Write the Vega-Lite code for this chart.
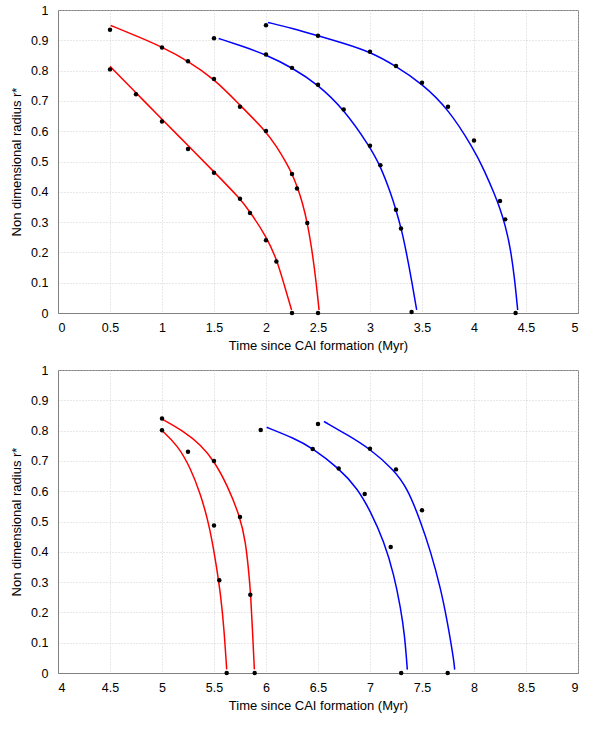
{
  "$schema": "https://vega.github.io/schema/vega-lite/v6.json",
  "background": "white",
  "padding": {"left": 10, "top": 3, "right": 5, "bottom": 5},
  "bounds": "flush",
  "spacing": 57,
  "config": {
    "font": "Liberation Sans",
    "view": {"stroke": "#808080", "strokeWidth": 1},
    "axis": {
      "grid": true,
      "gridColor": "#c4c4c4",
      "gridDash": [1, 2],
      "gridWidth": 0.8,
      "ticks": false,
      "domainColor": "#808080",
      "labelFontSize": 12.5,
      "titleFontSize": 13,
      "titleFontWeight": "normal",
      "labelColor": "#000000",
      "titleColor": "#000000"
    }
  },
  "datasets": {
    "top_curves": [
      {"curve": "A", "t": 0.5, "r": 0.814},
      {"curve": "A", "t": 0.75, "r": 0.727},
      {"curve": "A", "t": 1.0, "r": 0.639},
      {"curve": "A", "t": 1.25, "r": 0.553},
      {"curve": "A", "t": 1.5, "r": 0.466},
      {"curve": "A", "t": 1.75, "r": 0.378},
      {"curve": "A", "t": 1.85, "r": 0.332},
      {"curve": "A", "t": 2.0, "r": 0.254},
      {"curve": "A", "t": 2.1, "r": 0.18},
      {"curve": "A", "t": 2.17, "r": 0.099},
      {"curve": "A", "t": 2.246, "r": 0.01},
      {"curve": "B", "t": 0.506, "r": 0.949},
      {"curve": "B", "t": 0.75, "r": 0.915},
      {"curve": "B", "t": 1.0, "r": 0.878},
      {"curve": "B", "t": 1.25, "r": 0.832},
      {"curve": "B", "t": 1.5, "r": 0.773},
      {"curve": "B", "t": 1.75, "r": 0.686},
      {"curve": "B", "t": 2.0, "r": 0.6},
      {"curve": "B", "t": 2.1, "r": 0.55},
      {"curve": "B", "t": 2.2, "r": 0.494},
      {"curve": "B", "t": 2.25, "r": 0.459},
      {"curve": "B", "t": 2.3, "r": 0.418},
      {"curve": "B", "t": 2.35, "r": 0.365},
      {"curve": "B", "t": 2.4, "r": 0.295},
      {"curve": "B", "t": 2.45, "r": 0.19},
      {"curve": "B", "t": 2.484, "r": 0.096},
      {"curve": "B", "t": 2.51, "r": 0.01},
      {"curve": "C", "t": 1.545, "r": 0.906},
      {"curve": "C", "t": 1.75, "r": 0.883},
      {"curve": "C", "t": 2.0, "r": 0.853},
      {"curve": "C", "t": 2.25, "r": 0.81},
      {"curve": "C", "t": 2.5, "r": 0.754},
      {"curve": "C", "t": 2.75, "r": 0.672},
      {"curve": "C", "t": 3.0, "r": 0.548},
      {"curve": "C", "t": 3.1, "r": 0.485},
      {"curve": "C", "t": 3.2, "r": 0.395},
      {"curve": "C", "t": 3.25, "r": 0.34},
      {"curve": "C", "t": 3.3, "r": 0.28},
      {"curve": "C", "t": 3.35, "r": 0.2},
      {"curve": "C", "t": 3.4, "r": 0.108},
      {"curve": "C", "t": 3.449, "r": 0.01},
      {"curve": "D", "t": 2.019, "r": 0.959},
      {"curve": "D", "t": 2.25, "r": 0.94},
      {"curve": "D", "t": 2.5, "r": 0.915},
      {"curve": "D", "t": 2.75, "r": 0.89},
      {"curve": "D", "t": 3.0, "r": 0.862},
      {"curve": "D", "t": 3.25, "r": 0.815},
      {"curve": "D", "t": 3.5, "r": 0.757},
      {"curve": "D", "t": 3.75, "r": 0.675},
      {"curve": "D", "t": 4.0, "r": 0.54},
      {"curve": "D", "t": 4.1, "r": 0.47},
      {"curve": "D", "t": 4.2, "r": 0.39},
      {"curve": "D", "t": 4.25, "r": 0.345},
      {"curve": "D", "t": 4.3, "r": 0.29},
      {"curve": "D", "t": 4.35, "r": 0.215},
      {"curve": "D", "t": 4.39, "r": 0.115},
      {"curve": "D", "t": 4.42, "r": 0.01}
    ],
    "top_points": [
      {"t": 0.5, "r": 0.935}, {"t": 0.5, "r": 0.804}, {"t": 0.75, "r": 0.722},
      {"t": 1.0, "r": 0.632}, {"t": 1.25, "r": 0.541}, {"t": 1.5, "r": 0.463},
      {"t": 1.75, "r": 0.377}, {"t": 1.846, "r": 0.33}, {"t": 2.0, "r": 0.24},
      {"t": 2.1, "r": 0.17}, {"t": 2.25, "r": 0.0},
      {"t": 1.0, "r": 0.876}, {"t": 1.25, "r": 0.831}, {"t": 1.5, "r": 0.772},
      {"t": 1.75, "r": 0.681}, {"t": 2.0, "r": 0.601}, {"t": 2.25, "r": 0.459},
      {"t": 2.298, "r": 0.411}, {"t": 2.397, "r": 0.297}, {"t": 2.5, "r": 0.0},
      {"t": 1.5, "r": 0.907}, {"t": 2.0, "r": 0.853}, {"t": 2.25, "r": 0.809},
      {"t": 2.5, "r": 0.753}, {"t": 2.747, "r": 0.672}, {"t": 3.0, "r": 0.552},
      {"t": 3.1, "r": 0.488}, {"t": 3.25, "r": 0.341}, {"t": 3.298, "r": 0.279},
      {"t": 3.4, "r": 0.003},
      {"t": 2.0, "r": 0.95}, {"t": 2.5, "r": 0.915}, {"t": 3.0, "r": 0.862},
      {"t": 3.25, "r": 0.815}, {"t": 3.5, "r": 0.76}, {"t": 3.75, "r": 0.681},
      {"t": 4.0, "r": 0.569}, {"t": 4.25, "r": 0.37}, {"t": 4.3, "r": 0.309},
      {"t": 4.4, "r": 0.0}
    ],
    "bottom_curves": [
      {"curve": "A", "t": 5.0, "r": 0.8},
      {"curve": "A", "t": 5.147, "r": 0.753},
      {"curve": "A", "t": 5.276, "r": 0.676},
      {"curve": "A", "t": 5.372, "r": 0.588},
      {"curve": "A", "t": 5.436, "r": 0.511},
      {"curve": "A", "t": 5.484, "r": 0.434},
      {"curve": "A", "t": 5.526, "r": 0.346},
      {"curve": "A", "t": 5.564, "r": 0.258},
      {"curve": "A", "t": 5.596, "r": 0.148},
      {"curve": "A", "t": 5.622, "r": 0.012},
      {"curve": "B", "t": 5.0, "r": 0.838},
      {"curve": "B", "t": 5.212, "r": 0.797},
      {"curve": "B", "t": 5.372, "r": 0.753},
      {"curve": "B", "t": 5.5, "r": 0.7},
      {"curve": "B", "t": 5.628, "r": 0.62},
      {"curve": "B", "t": 5.75, "r": 0.516},
      {"curve": "B", "t": 5.804, "r": 0.434},
      {"curve": "B", "t": 5.837, "r": 0.324},
      {"curve": "B", "t": 5.853, "r": 0.258},
      {"curve": "B", "t": 5.869, "r": 0.148},
      {"curve": "B", "t": 5.888, "r": 0.012},
      {"curve": "C", "t": 6.006, "r": 0.811},
      {"curve": "C", "t": 6.269, "r": 0.775},
      {"curve": "C", "t": 6.449, "r": 0.742},
      {"curve": "C", "t": 6.699, "r": 0.676},
      {"curve": "C", "t": 6.878, "r": 0.61},
      {"curve": "C", "t": 7.006, "r": 0.533},
      {"curve": "C", "t": 7.135, "r": 0.434},
      {"curve": "C", "t": 7.231, "r": 0.324},
      {"curve": "C", "t": 7.295, "r": 0.214},
      {"curve": "C", "t": 7.333, "r": 0.126},
      {"curve": "C", "t": 7.359, "r": 0.011},
      {"curve": "D", "t": 6.558, "r": 0.83},
      {"curve": "D", "t": 6.782, "r": 0.786},
      {"curve": "D", "t": 7.0, "r": 0.74},
      {"curve": "D", "t": 7.231, "r": 0.67},
      {"curve": "D", "t": 7.359, "r": 0.61},
      {"curve": "D", "t": 7.487, "r": 0.5},
      {"curve": "D", "t": 7.583, "r": 0.401},
      {"curve": "D", "t": 7.679, "r": 0.28},
      {"curve": "D", "t": 7.744, "r": 0.17},
      {"curve": "D", "t": 7.808, "r": 0.038},
      {"curve": "D", "t": 7.814, "r": 0.011}
    ],
    "bottom_points": [
      {"t": 5.0, "r": 0.84}, {"t": 5.0, "r": 0.801}, {"t": 5.25, "r": 0.73},
      {"t": 5.5, "r": 0.7}, {"t": 5.5, "r": 0.487}, {"t": 5.551, "r": 0.306},
      {"t": 5.75, "r": 0.515}, {"t": 5.849, "r": 0.258}, {"t": 5.622, "r": 0.0},
      {"t": 5.891, "r": 0.0}, {"t": 5.949, "r": 0.802}, {"t": 6.449, "r": 0.739},
      {"t": 6.5, "r": 0.822}, {"t": 6.699, "r": 0.675}, {"t": 6.949, "r": 0.591},
      {"t": 7.0, "r": 0.74}, {"t": 7.199, "r": 0.416}, {"t": 7.25, "r": 0.672},
      {"t": 7.5, "r": 0.537}, {"t": 7.3, "r": 0.0}, {"t": 7.747, "r": 0.0}
    ]
  },
  "vconcat": [
    {
      "width": 520,
      "height": 303,
      "encoding": {
        "x": {"field": "t", "type": "quantitative", "title": "Time since CAI formation (Myr)",
          "scale": {"domain": [0, 5], "nice": false},
          "axis": {"values": [0, 0.5, 1, 1.5, 2, 2.5, 3, 3.5, 4, 4.5, 5], "format": "~g", "labelPadding": 8, "titlePadding": 6}},
        "y": {"field": "r", "type": "quantitative", "title": "Non dimensional radius r*",
          "scale": {"domain": [0, 1], "nice": false},
          "axis": {"values": [0, 0.1, 0.2, 0.3, 0.4, 0.5, 0.6, 0.7, 0.8, 0.9, 1], "format": "~g", "labelPadding": 10, "titlePadding": 7}}
      },
      "layer": [
        {
          "data": {"name": "top_curves"},
          "mark": {"type": "line", "strokeWidth": 1.5, "interpolate": "basis"},
          "encoding": {
            "color": {"field": "curve", "type": "nominal", "legend": null,
              "scale": {"domain": ["A", "B", "C", "D"], "range": ["#ff0000", "#ff0000", "#0000ff", "#0000ff"]}}
          }
        },
        {
          "data": {"name": "top_points"},
          "mark": {"type": "point", "filled": true, "color": "#000000", "size": 20, "opacity": 1}
        }
      ]
    },
    {
      "width": 520,
      "height": 303,
      "encoding": {
        "x": {"field": "t", "type": "quantitative", "title": "Time since CAI formation (Myr)",
          "scale": {"domain": [4, 9], "nice": false},
          "axis": {"values": [4, 4.5, 5, 5.5, 6, 6.5, 7, 7.5, 8, 8.5, 9], "format": "~g", "labelPadding": 8, "titlePadding": 6}},
        "y": {"field": "r", "type": "quantitative", "title": "Non dimensional radius r*",
          "scale": {"domain": [0, 1], "nice": false},
          "axis": {"values": [0, 0.1, 0.2, 0.3, 0.4, 0.5, 0.6, 0.7, 0.8, 0.9, 1], "format": "~g", "labelPadding": 10, "titlePadding": 7}}
      },
      "layer": [
        {
          "data": {"name": "bottom_curves"},
          "mark": {"type": "line", "strokeWidth": 1.5, "interpolate": "basis"},
          "encoding": {
            "color": {"field": "curve", "type": "nominal", "legend": null,
              "scale": {"domain": ["A", "B", "C", "D"], "range": ["#ff0000", "#ff0000", "#0000ff", "#0000ff"]}}
          }
        },
        {
          "data": {"name": "bottom_points"},
          "mark": {"type": "point", "filled": true, "color": "#000000", "size": 20, "opacity": 1}
        }
      ]
    }
  ]
}
